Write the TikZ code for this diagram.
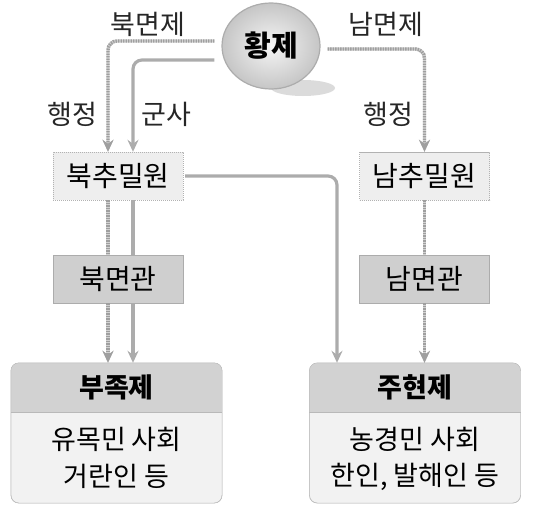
\documentclass[tikz,border=0pt]{standalone}
\usepackage{fontspec}
\setmainfont{Noto Sans CJK KR}
\usetikzlibrary{shapes.geometric,arrows.meta}
\begin{document}
\begin{tikzpicture}[x=1pt,y=-1pt,
  every node/.style={font=\fontsize{27}{31}\selectfont, inner sep=0pt},
  lbl/.style={text=black!85},
  boxfont/.style={font=\fontsize{28}{32}\selectfont},
  topbox/.style={boxfont, draw=gray!60, dash pattern=on 1.2pt off 0.8pt, fill=gray!13, minimum width=130, minimum height=48},
  midbox/.style={boxfont, draw=gray!65, fill=gray!38, minimum width=130, minimum height=48},
  bigbox/.style={draw=gray!55, fill=gray!10, rounded corners=8pt, minimum width=211, minimum height=140},
  solidline/.style={draw=gray!65, line width=3.2pt, rounded corners=9pt},
  wavyline/.style={draw=gray!75, line width=3.4pt, rounded corners=9pt, dash pattern=on 1.4pt off 1.1pt,
     preaction={draw=gray!35, line width=3.4pt, solid}},
  tip/.style={-{Stealth[length=12pt,width=11pt,inset=4pt]}},
]
\useasboundingbox (0,0) rectangle (546,506);
% shadow of ellipse
\fill[gray!28] (303,88) ellipse [x radius=32, y radius=8];
\node[ellipse, draw=gray!65, line width=1.2pt, inner color=gray!8, outer color=gray!45,
  minimum width=98, minimum height=86, font=\fontsize{29}{33}\selectfont\bfseries] (hw) at (271,46) {황제};

\node[topbox] (bc) at (118,176) {북추밀원};
\node[topbox] (nc) at (424.5,176) {남추밀원};
\node[midbox] (bm) at (118,279) {북면관};
\node[midbox] (nm) at (424.5,279) {남면관};
\node[bigbox] (bu) at (116.5,433) {};
\node[bigbox] (ju) at (415,433) {};

\foreach \b in {bu,ju}{
  \begin{scope}
    \clip[rounded corners=8pt] (\b.north west) rectangle (\b.south east);
    \fill[gray!35] (\b.north west) rectangle ([yshift=-49pt]\b.north east);
  \end{scope}
  \draw[gray!55] ([yshift=-49pt]\b.north west) -- ([yshift=-49pt]\b.north east);
  \draw[gray!55, rounded corners=8pt] (\b.north west) rectangle (\b.south east);
}
\node[font=\fontsize{27}{31}\selectfont\bfseries] (buh) at ([yshift=-25pt]bu.north) {부족제};
\node (bu1) at ([yshift=-77pt]bu.north) {유목민 사회};
\node (bu2) at ([yshift=-114pt]bu.north) {거란인 등};
\node[font=\fontsize{27}{31}\selectfont\bfseries] (juh) at ([yshift=-25pt]ju.north) {주현제};
\node (ju1) at ([yshift=-77pt]ju.north) {농경민 사회};
\node (ju2) at ([yshift=-114pt]ju.north) {한인, 발해인 등};

% labels
\node[lbl] (l1) at (148,24) {북면제};
\node[lbl] (l2) at (386,24) {남면제};
\node[lbl] (l3) at (72,114) {행정};
\node[lbl] (l4) at (166,114) {군사};
\node[lbl] (l5) at (388,114) {행정};

% connectors
\draw[wavyline, tip] ([xshift=-7pt,yshift=5pt]hw.west) -| ([xshift=-10pt]bc.north);
\draw[solidline, tip] ([xshift=-7pt,yshift=-14pt]hw.west) -| ([xshift=15pt]bc.north);
\draw[wavyline, tip] ([xshift=7pt,yshift=-3pt]hw.east) -| (nc.north);

\draw[wavyline] ([xshift=-10pt]bc.south) -- ([xshift=-10pt]bm.north);
\draw[solidline] ([xshift=15pt]bc.south) -- ([xshift=15pt]bm.north);
\draw[wavyline, tip] ([xshift=-10pt]bm.south) -- ([xshift=-8.5pt]bu.north);
\draw[solidline, tip] ([xshift=15pt]bm.south) -- ([xshift=16.5pt]bu.north);

\draw[solidline, tip] ([xshift=2pt]bc.east) -| ([xshift=-78pt]ju.north);

\draw[wavyline] (nc.south) -- (nm.north);
\draw[wavyline, tip] (nm.south) -- ([xshift=9.5pt]ju.north);
\end{tikzpicture}
\end{document}
